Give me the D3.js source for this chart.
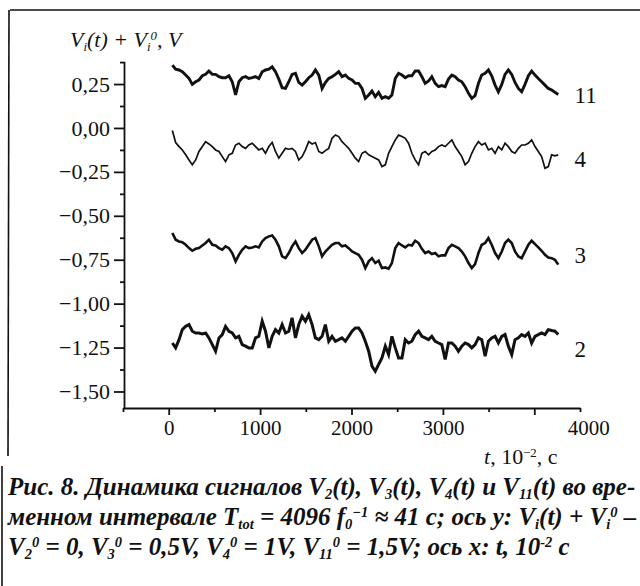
<!DOCTYPE html>
<html>
<head>
<meta charset="utf-8">
<script src="https://cdn.jsdelivr.net/npm/d3@7"></script>
<style>
  html, body { margin: 0; padding: 0; background: #fff; }
  svg { display: block; }
</style>
</head>
<body>
<svg id="chart" width="640" height="586"></svg>
<script>
// ---------------- DATA ----------------
const times = [
  40,76,113,149,186, 222,258,295,331,368, 404,440,477,513,550, 586,622,659,695,732,
  768,804,841,877,914, 950,986,1023,1059,1096, 1132,1168,1205,1241,1278, 1314,1350,1387,1423,1460,
  1496,1532,1569,1605,1642, 1678,1714,1751,1787,1824, 1860,1896,1933,1969,2006, 2042,2078,2115,2151,2188,
  2224,2260,2297,2333,2370, 2406,2442,2479,2515,2552, 2588,2624,2661,2697,2734, 2770,2806,2843,2879,2916,
  2952,2988,3025,3061,3098, 3134,3170,3207,3243,3280, 3316,3352,3389,3425,3462, 3498,3534,3571,3607,3644,
  3680,3716,3753,3789,3826, 3862,3898,3935,3971,4008, 4044,4080,4117,4153,4190, 4226,4262
];

const v11 = [
  0.358,0.335,0.330,0.320,0.301,0.282,0.248,0.263,0.273,0.297,
  0.305,0.324,0.305,0.305,0.292,0.286,0.286,0.297,0.263,0.188,
  0.263,0.286,0.292,0.282,0.286,0.292,0.282,0.320,0.330,0.335,
  0.348,0.320,0.278,0.229,0.225,0.263,0.305,0.311,0.259,0.244,
  0.263,0.286,0.301,0.330,0.301,0.225,0.259,0.282,0.292,0.305,
  0.320,0.292,0.301,0.282,0.273,0.254,0.254,0.225,0.169,0.188,
  0.210,0.178,0.203,0.169,0.178,0.169,0.188,0.282,0.311,0.301,
  0.286,0.297,0.297,0.324,0.324,0.292,0.254,0.267,0.292,0.254,
  0.235,0.241,0.235,0.278,0.301,0.292,0.273,0.263,0.235,0.197,
  0.169,0.184,0.254,0.301,0.311,0.330,0.297,0.244,0.206,0.248,
  0.305,0.330,0.305,0.259,0.225,0.206,0.248,0.297,0.324,0.301,
  0.282,0.263,0.244,0.225,0.216,0.203,0.191
];

const v4 = [
  -0.015,-0.083,-0.106,-0.125,-0.153,-0.182,-0.210,-0.182,-0.134,-0.106,
  -0.078,-0.091,-0.106,-0.125,-0.134,-0.163,-0.191,-0.153,-0.144,-0.097,
  -0.087,-0.106,-0.116,-0.097,-0.087,-0.106,-0.125,-0.116,-0.144,-0.106,
  -0.083,-0.134,-0.172,-0.144,-0.116,-0.121,-0.116,-0.134,-0.182,-0.163,
  -0.125,-0.078,-0.091,-0.083,-0.134,-0.144,-0.129,-0.116,-0.059,-0.040,
  -0.049,-0.078,-0.097,-0.116,-0.144,-0.172,-0.191,-0.144,-0.134,-0.153,
  -0.163,-0.172,-0.182,-0.220,-0.210,-0.144,-0.106,-0.068,-0.040,-0.049,
  -0.059,-0.087,-0.144,-0.182,-0.210,-0.144,-0.134,-0.153,-0.134,-0.125,
  -0.106,-0.097,-0.106,-0.087,-0.068,-0.106,-0.134,-0.163,-0.210,-0.191,
  -0.144,-0.106,-0.078,-0.097,-0.087,-0.125,-0.116,-0.144,-0.106,-0.125,
  -0.087,-0.106,-0.134,-0.144,-0.116,-0.097,-0.097,-0.087,-0.068,-0.106,
  -0.134,-0.163,-0.229,-0.220,-0.153,-0.159,-0.153
];

const v3 = [
  -0.598,-0.636,-0.646,-0.650,-0.665,-0.684,-0.699,-0.688,-0.684,-0.669,
  -0.655,-0.636,-0.665,-0.669,-0.684,-0.693,-0.674,-0.684,-0.712,-0.759,
  -0.722,-0.693,-0.674,-0.684,-0.680,-0.674,-0.680,-0.646,-0.627,-0.617,
  -0.612,-0.636,-0.674,-0.731,-0.741,-0.712,-0.674,-0.646,-0.684,-0.712,
  -0.693,-0.665,-0.636,-0.627,-0.674,-0.731,-0.703,-0.684,-0.665,-0.655,
  -0.655,-0.674,-0.669,-0.684,-0.703,-0.712,-0.722,-0.750,-0.797,-0.759,
  -0.741,-0.769,-0.756,-0.797,-0.794,-0.801,-0.769,-0.684,-0.655,-0.669,
  -0.680,-0.665,-0.669,-0.642,-0.655,-0.688,-0.712,-0.703,-0.718,-0.712,
  -0.731,-0.725,-0.725,-0.684,-0.665,-0.674,-0.684,-0.703,-0.731,-0.769,
  -0.797,-0.775,-0.712,-0.665,-0.655,-0.627,-0.665,-0.712,-0.741,-0.703,
  -0.655,-0.636,-0.655,-0.703,-0.731,-0.741,-0.703,-0.665,-0.642,-0.661,
  -0.680,-0.699,-0.722,-0.737,-0.741,-0.750,-0.778
];

const v2 = [
  -1.224,-1.252,-1.205,-1.148,-1.129,-1.119,-1.157,-1.167,-1.167,-1.172,
  -1.167,-1.195,-1.233,-1.271,-1.195,-1.176,-1.129,-1.157,-1.167,-1.195,
  -1.186,-1.233,-1.242,-1.252,-1.252,-1.195,-1.186,-1.100,-1.157,-1.252,
  -1.186,-1.148,-1.167,-1.119,-1.167,-1.157,-1.081,-1.195,-1.119,-1.072,
  -1.100,-1.063,-1.119,-1.195,-1.205,-1.186,-1.119,-1.214,-1.186,-1.214,
  -1.205,-1.195,-1.214,-1.186,-1.157,-1.138,-1.138,-1.167,-1.214,-1.271,
  -1.356,-1.385,-1.346,-1.309,-1.242,-1.290,-1.186,-1.252,-1.309,-1.309,
  -1.205,-1.224,-1.214,-1.176,-1.157,-1.186,-1.195,-1.205,-1.186,-1.214,
  -1.224,-1.233,-1.318,-1.224,-1.224,-1.242,-1.271,-1.242,-1.224,-1.233,
  -1.252,-1.233,-1.195,-1.205,-1.299,-1.214,-1.195,-1.186,-1.224,-1.186,
  -1.176,-1.242,-1.290,-1.205,-1.195,-1.176,-1.186,-1.167,-1.224,-1.186,
  -1.176,-1.167,-1.176,-1.148,-1.153,-1.157,-1.176
];

const seriesNames  = ["11", "4", "3", "2"];
const seriesValues = [v11, v4, v3, v2];
const labelLevels  = [0.188, -0.174, -0.723, -1.258];

const yTicks      = [0.25, 0, -0.25, -0.5, -0.75, -1, -1.25, -1.5];
const yTickLabels = ["0,25", "0,00", "\u22120,25", "\u22120,50", "\u22120,75", "\u22121,00", "\u22121,25", "\u22121,50"];
const yMinor      = [0.375, 0.125, -0.125, -0.375, -0.625, -0.875, -1.125, -1.375];
const xTicks      = [0, 1000, 2000, 3000, 4000];
const xTickLabels = ["0", "1000", "2000", "3000", "4000"];
const xMinor      = [-500, 500, 1500, 2500, 3500, 4500];

// ---------------- STYLE ----------------
const ink = "#111";
const serif = "'Liberation Serif', 'DejaVu Serif', serif";
const strokeW = [2.9, 1.7, 2.6, 3.0];

const svg = d3.select("#chart");

const x = d3.scaleLinear().domain([-500, 4500]).range([123, 580]);
const y = d3.scaleLinear().domain([-1.594, 0.38]).range([408, 61.2]);

// frame (scan border)
svg.append("line").attr("x1", 10).attr("y1", 10).attr("x2", 640).attr("y2", 10)
  .attr("stroke", ink).attr("stroke-width", 1.6);
svg.append("line").attr("x1", 9).attr("y1", 10).attr("x2", 8).attr("y2", 456)
  .attr("stroke", ink).attr("stroke-width", 1.6);
svg.append("line").attr("x1", 2).attr("y1", 466).attr("x2", 2).attr("y2", 586)
  .attr("stroke", ink).attr("stroke-width", 1.6);

// y axis
const yAxis = svg.append("g").attr("transform", "translate(124,0)")
  .call(d3.axisLeft(y).tickValues(yTicks).tickFormat((d, i) => yTickLabels[i])
    .tickSize(10).tickSizeOuter(0).tickPadding(4));
svg.append("g").attr("transform", "translate(124,0)")
  .call(d3.axisLeft(y).tickValues(yMinor).tickFormat("").tickSize(4).tickSizeOuter(0))
  .call(g => g.select(".domain").remove());

// x axis
const xAxis = svg.append("g").attr("transform", "translate(0,408)")
  .call(d3.axisBottom(x).tickValues(xTicks).tickFormat((d, i) => xTickLabels[i])
    .tickSize(7).tickSizeOuter(0).tickPadding(5));
svg.append("g").attr("transform", "translate(0,408)")
  .call(d3.axisBottom(x).tickValues(xMinor).tickFormat("").tickSize(4).tickSizeOuter(0))
  .call(g => g.select(".domain").remove());
// the last label in the source sits further right
xAxis.selectAll(".tick text").filter(d => d === 4000).attr("dx", 54);

svg.selectAll(".domain, .tick line").attr("stroke", ink).attr("stroke-width", 1.8);
svg.selectAll(".tick text").attr("fill", ink).style("font-family", serif).style("font-size", "21px");
yAxis.selectAll(".tick text").style("font-size", "22px");

// series
const line = d3.line().x((d, i) => x(times[i])).y(d => y(d));
seriesValues.forEach((vals, k) => {
  svg.append("path").datum(vals)
    .attr("d", line)
    .attr("fill", "none")
    .attr("stroke", ink)
    .attr("stroke-width", strokeW[k])
    .attr("stroke-linejoin", "miter")
    .attr("stroke-linecap", "butt");
  svg.append("text")
    .attr("x", x(4440)).attr("y", y(labelLevels[k])).attr("dy", "0.35em")
    .attr("fill", ink).style("font-family", serif).style("font-size", "23px")
    .text(seriesNames[k]);
});

// rich text helper: segs = [text, kind, style]
function rich(sel, segs, size) {
  let cur = 0;
  segs.forEach(s => {
    const kind = s[1] || "";
    const target = kind === "sub" ? size * 0.16 : kind === "sup" ? -size * 0.32 : 0;
    const t = sel.append("tspan").attr("dy", target - cur).text(s[0]);
    cur = target;
    if (kind === "sub" || kind === "sup") t.style("font-size", (size * 0.58) + "px");
    if (s[2]) t.style("font-style", s[2]);
  });
}

// y axis title
const yt = svg.append("text").attr("x", 70).attr("y", 47)
  .attr("fill", ink).style("font-family", serif).style("font-size", "22px").style("font-style", "italic");
rich(yt, [["V"], ["i", "sub"], ["(t) + V", ""], ["i", "sub"], ["0", "sup"], [", V", ""]], 22);

// x axis title
const xt = svg.append("text").attr("x", 484).attr("y", 464)
  .attr("fill", ink).style("font-family", serif).style("font-size", "22px");
rich(xt, [["t", "", "italic"], [", 10", ""], ["\u22122", "sup"], [", с", ""]], 22);

// caption
const cs = 25;
const capLines = [
  [["Рис. 8. Динамика сигналов V"], ["2", "sub"], ["(t), V"], ["3", "sub"], ["(t), V"], ["4", "sub"],
   ["(t) и V"], ["11", "sub"], ["(t) во вре-"]],
  [["менном интервале T"], ["tot", "sub"], [" = 4096 f"], ["0", "sub"], ["\u22121", "sup"],
   [" ≈ 41 с; ось y: V"], ["i", "sub"], ["(t) + V"], ["i", "sub"], ["0", "sup"], [" –"]],
  [["V"], ["2", "sub"], ["0", "sup"], [" = 0, V"], ["3", "sub"], ["0", "sup"], [" = 0,5V, V"], ["4", "sub"],
   ["0", "sup"], [" = 1V, V"], ["11", "sub"], ["0", "sup"], [" = 1,5V; ось x: t, 10"], ["-2", "sup"], [" с"]]
];
const capY = [495, 525, 555];
capLines.forEach((segs, i) => {
  const t = svg.append("text").attr("x", 8).attr("y", capY[i])
    .attr("fill", ink).style("font-family", serif).style("font-size", cs + "px")
    .style("font-weight", "bold").style("font-style", "italic");
  rich(t, segs, cs);
});
</script>
</body>
</html>
